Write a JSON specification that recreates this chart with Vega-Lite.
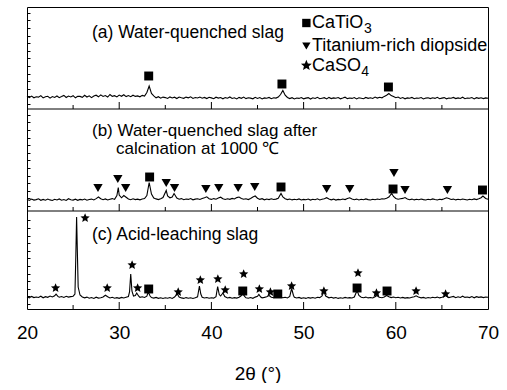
{
  "$schema": "https://vega.github.io/schema/vega-lite/v6.json",
  "width": 461,
  "height": 302,
  "padding": {"left": 16, "top": 7, "right": 0, "bottom": 0},
  "config": {
    "view": {"stroke": "black", "strokeWidth": 1},
    "font": "Liberation Sans",
    "axis": {"grid": false, "domain": false, "tickColor": "black", "labelColor": "black", "titleColor": "black", "labelFont": "Liberation Sans", "titleFont": "Liberation Sans"}
  },
  "resolve": {"scale": {"y": "independent"}},
  "datasets": {
    "sep": [{"y": 98}, {"y": 200}],
    "major": [
      {"x":30,"y":0},{"x":40,"y":0},{"x":50,"y":0},{"x":60,"y":0},
      {"x":30,"y":98},{"x":40,"y":98},{"x":50,"y":98},{"x":60,"y":98},
      {"x":30,"y":200},{"x":40,"y":200},{"x":50,"y":200},{"x":60,"y":200}
    ],
    "minor": [
      {"x":25,"y":0},{"x":35,"y":0},{"x":45,"y":0},{"x":55,"y":0},{"x":65,"y":0},
      {"x":25,"y":98},{"x":35,"y":98},{"x":45,"y":98},{"x":55,"y":98},{"x":65,"y":98},
      {"x":25,"y":200},{"x":35,"y":200},{"x":45,"y":200},{"x":55,"y":200},{"x":65,"y":200}
    ],
    "spa": [
      {"x":20.00,"y":12.8},{"x":20.25,"y":11.4},{"x":20.50,"y":12.9},{"x":20.75,"y":11.2},{"x":21.00,"y":12.3},{"x":21.25,"y":11.9},{"x":21.50,"y":13.4},{"x":21.75,"y":11.1},{"x":22.00,"y":12.2},{"x":22.25,"y":12.7},{"x":22.50,"y":10.9},{"x":22.75,"y":12.5},{"x":23.00,"y":11.6},{"x":23.25,"y":13.0},{"x":23.50,"y":11.3},{"x":23.75,"y":12.4},{"x":24.00,"y":13.6},{"x":24.25,"y":11.5},{"x":24.50,"y":12.9},{"x":24.75,"y":12.1},{"x":25.00,"y":13.3},{"x":25.25,"y":11.2},{"x":25.50,"y":12.8},{"x":25.75,"y":12.6},{"x":26.00,"y":11.7},{"x":26.25,"y":13.7},{"x":26.50,"y":12.0},{"x":26.75,"y":13.2},{"x":27.00,"y":11.4},{"x":27.25,"y":12.9},{"x":27.50,"y":13.8},{"x":27.75,"y":12.2},{"x":28.00,"y":14.1},{"x":28.25,"y":12.5},{"x":28.50,"y":13.4},{"x":28.75,"y":12.0},{"x":29.00,"y":14.5},{"x":29.25,"y":12.6},{"x":29.50,"y":13.3},{"x":29.75,"y":12.1},{"x":30.00,"y":13.9},{"x":30.25,"y":12.7},{"x":30.50,"y":14.2},{"x":30.75,"y":12.4},{"x":31.00,"y":13.5},{"x":31.25,"y":12.3},{"x":31.50,"y":13.8},{"x":31.75,"y":12.6},{"x":32.00,"y":13.1},{"x":32.25,"y":12.2},{"x":32.50,"y":13.6},{"x":32.75,"y":13.0},{"x":33.00,"y":16.5},{"x":33.25,"y":23.0},{"x":33.50,"y":15.5},{"x":33.75,"y":13.2},{"x":34.00,"y":11.2},{"x":34.25,"y":12.3},{"x":34.50,"y":10.8},{"x":34.75,"y":11.9},{"x":35.00,"y":11.4},{"x":35.25,"y":10.6},{"x":35.50,"y":12.1},{"x":35.75,"y":11.0},{"x":36.00,"y":11.8},{"x":36.25,"y":10.5},{"x":36.50,"y":12.0},{"x":36.75,"y":11.3},{"x":37.00,"y":10.7},{"x":37.25,"y":11.9},{"x":37.50,"y":11.2},{"x":37.75,"y":12.2},{"x":38.00,"y":10.6},{"x":38.25,"y":11.5},{"x":38.50,"y":11.0},{"x":38.75,"y":12.0},{"x":39.00,"y":10.8},{"x":39.25,"y":11.6},{"x":39.50,"y":10.4},{"x":39.75,"y":11.7},{"x":40.00,"y":11.1},{"x":40.25,"y":10.3},{"x":40.50,"y":11.8},{"x":40.75,"y":10.9},{"x":41.00,"y":11.5},{"x":41.25,"y":10.2},{"x":41.50,"y":11.4},{"x":41.75,"y":10.8},{"x":42.00,"y":12.0},{"x":42.25,"y":10.5},{"x":42.50,"y":11.2},{"x":42.75,"y":10.1},{"x":43.00,"y":11.6},{"x":43.25,"y":10.7},{"x":43.50,"y":11.9},{"x":43.75,"y":10.4},{"x":44.00,"y":11.3},{"x":44.25,"y":10.9},{"x":44.50,"y":10.2},{"x":44.75,"y":11.7},{"x":45.00,"y":10.6},{"x":45.25,"y":11.4},{"x":45.50,"y":10.0},{"x":45.75,"y":11.1},{"x":46.00,"y":10.8},{"x":46.25,"y":11.6},{"x":46.50,"y":10.3},{"x":46.75,"y":11.2},{"x":47.00,"y":10.9},{"x":47.25,"y":12.0},{"x":47.50,"y":14.5},{"x":47.75,"y":18.5},{"x":48.00,"y":13.8},{"x":48.25,"y":11.5},{"x":48.50,"y":10.4},{"x":48.75,"y":11.3},{"x":49.00,"y":10.1},{"x":49.25,"y":11.0},{"x":49.50,"y":10.6},{"x":49.75,"y":11.5},{"x":50.00,"y":10.2},{"x":50.25,"y":10.9},{"x":50.50,"y":11.4},{"x":50.75,"y":10.0},{"x":51.00,"y":11.2},{"x":51.25,"y":10.5},{"x":51.50,"y":11.7},{"x":51.75,"y":10.3},{"x":52.00,"y":10.8},{"x":52.25,"y":11.3},{"x":52.50,"y":10.1},{"x":52.75,"y":11.6},{"x":53.00,"y":10.4},{"x":53.25,"y":11.1},{"x":53.50,"y":10.7},{"x":53.75,"y":11.5},{"x":54.00,"y":10.2},{"x":54.25,"y":10.9},{"x":54.50,"y":11.8},{"x":54.75,"y":10.4},{"x":55.00,"y":11.0},{"x":55.25,"y":10.6},{"x":55.50,"y":11.4},{"x":55.75,"y":10.1},{"x":56.00,"y":11.2},{"x":56.25,"y":10.8},{"x":56.50,"y":10.3},{"x":56.75,"y":11.6},{"x":57.00,"y":10.7},{"x":57.25,"y":11.3},{"x":57.50,"y":10.5},{"x":57.75,"y":11.9},{"x":58.00,"y":10.9},{"x":58.25,"y":11.7},{"x":58.50,"y":11.2},{"x":58.75,"y":12.6},{"x":59.00,"y":13.8},{"x":59.25,"y":15.5},{"x":59.50,"y":13.4},{"x":59.75,"y":12.5},{"x":60.00,"y":11.3},{"x":60.25,"y":12.0},{"x":60.50,"y":10.6},{"x":60.75,"y":11.4},{"x":61.00,"y":10.2},{"x":61.25,"y":11.1},{"x":61.50,"y":10.7},{"x":61.75,"y":11.6},{"x":62.00,"y":10.3},{"x":62.25,"y":11.0},{"x":62.50,"y":10.8},{"x":62.75,"y":11.5},{"x":63.00,"y":10.1},{"x":63.25,"y":10.9},{"x":63.50,"y":11.3},{"x":63.75,"y":10.4},{"x":64.00,"y":11.2},{"x":64.25,"y":10.6},{"x":64.50,"y":11.7},{"x":64.75,"y":10.3},{"x":65.00,"y":10.9},{"x":65.25,"y":11.4},{"x":65.50,"y":10.2},{"x":65.75,"y":11.0},{"x":66.00,"y":10.7},{"x":66.25,"y":11.6},{"x":66.50,"y":10.4},{"x":66.75,"y":11.1},{"x":67.00,"y":10.5},{"x":67.25,"y":11.8},{"x":67.50,"y":10.3},{"x":67.75,"y":11.0},{"x":68.00,"y":10.8},{"x":68.25,"y":11.5},{"x":68.50,"y":10.1},{"x":68.75,"y":11.3},{"x":69.00,"y":10.6},{"x":69.25,"y":11.2},{"x":69.50,"y":10.4},{"x":69.75,"y":11.1},{"x":70.00,"y":10.7}
    ],
    "spb": [
      {"x":20.00,"y":11.8},{"x":20.25,"y":10.6},{"x":20.50,"y":11.9},{"x":20.75,"y":10.9},{"x":21.00,"y":11.4},{"x":21.25,"y":12.2},{"x":21.50,"y":10.7},{"x":21.75,"y":11.6},{"x":22.00,"y":10.8},{"x":22.25,"y":12.0},{"x":22.50,"y":11.1},{"x":22.75,"y":10.5},{"x":23.00,"y":11.7},{"x":23.25,"y":11.0},{"x":23.50,"y":12.1},{"x":23.75,"y":10.8},{"x":24.00,"y":11.5},{"x":24.25,"y":10.6},{"x":24.50,"y":12.3},{"x":24.75,"y":11.2},{"x":25.00,"y":10.9},{"x":25.25,"y":11.8},{"x":25.50,"y":10.7},{"x":25.75,"y":11.6},{"x":26.00,"y":11.1},{"x":26.25,"y":12.0},{"x":26.50,"y":10.8},{"x":26.75,"y":11.5},{"x":27.00,"y":11.9},{"x":27.25,"y":11.0},{"x":27.50,"y":12.4},{"x":27.75,"y":14.0},{"x":28.00,"y":12.2},{"x":28.25,"y":11.3},{"x":28.50,"y":12.1},{"x":28.75,"y":11.0},{"x":29.00,"y":11.8},{"x":29.25,"y":12.4},{"x":29.50,"y":11.6},{"x":29.75,"y":15.5},{"x":29.90,"y":23.5},{"x":30.00,"y":16.0},{"x":30.25,"y":13.2},{"x":30.50,"y":15.5},{"x":30.75,"y":13.8},{"x":31.00,"y":12.0},{"x":31.25,"y":11.3},{"x":31.50,"y":12.2},{"x":31.75,"y":11.4},{"x":32.00,"y":11.9},{"x":32.25,"y":11.2},{"x":32.50,"y":12.0},{"x":32.75,"y":12.5},{"x":33.00,"y":15.5},{"x":33.25,"y":28.5},{"x":33.50,"y":17.0},{"x":33.75,"y":13.0},{"x":34.00,"y":12.1},{"x":34.25,"y":11.4},{"x":34.50,"y":12.3},{"x":34.75,"y":13.5},{"x":35.10,"y":20.5},{"x":35.25,"y":15.0},{"x":35.50,"y":13.2},{"x":35.75,"y":14.0},{"x":35.95,"y":17.5},{"x":36.25,"y":13.0},{"x":36.50,"y":11.8},{"x":36.75,"y":12.4},{"x":37.00,"y":11.3},{"x":37.25,"y":12.0},{"x":37.50,"y":11.6},{"x":37.75,"y":12.5},{"x":38.00,"y":11.2},{"x":38.25,"y":11.9},{"x":38.50,"y":12.3},{"x":38.75,"y":11.5},{"x":39.00,"y":12.4},{"x":39.25,"y":13.2},{"x":39.50,"y":14.2},{"x":39.75,"y":12.3},{"x":40.00,"y":11.6},{"x":40.25,"y":12.4},{"x":40.50,"y":11.8},{"x":40.75,"y":12.9},{"x":41.00,"y":13.8},{"x":41.25,"y":12.2},{"x":41.50,"y":11.5},{"x":41.75,"y":12.3},{"x":42.00,"y":11.7},{"x":42.25,"y":12.6},{"x":42.50,"y":12.0},{"x":42.75,"y":13.4},{"x":43.00,"y":14.0},{"x":43.25,"y":12.5},{"x":43.50,"y":11.7},{"x":43.75,"y":12.2},{"x":44.00,"y":11.4},{"x":44.25,"y":12.6},{"x":44.50,"y":14.0},{"x":44.75,"y":15.0},{"x":45.00,"y":12.8},{"x":45.25,"y":11.6},{"x":45.50,"y":12.3},{"x":45.75,"y":11.2},{"x":46.00,"y":12.0},{"x":46.25,"y":11.4},{"x":46.50,"y":12.2},{"x":46.75,"y":11.5},{"x":47.00,"y":11.9},{"x":47.25,"y":12.8},{"x":47.55,"y":17.5},{"x":47.75,"y":14.0},{"x":48.00,"y":12.2},{"x":48.25,"y":11.4},{"x":48.50,"y":12.0},{"x":48.75,"y":11.1},{"x":49.00,"y":11.8},{"x":49.25,"y":11.3},{"x":49.50,"y":12.1},{"x":49.75,"y":11.0},{"x":50.00,"y":11.6},{"x":50.25,"y":11.2},{"x":50.50,"y":12.0},{"x":50.75,"y":10.9},{"x":51.00,"y":11.7},{"x":51.25,"y":11.3},{"x":51.50,"y":12.2},{"x":51.75,"y":11.0},{"x":52.00,"y":11.8},{"x":52.25,"y":12.3},{"x":52.50,"y":13.3},{"x":52.75,"y":12.0},{"x":53.00,"y":11.2},{"x":53.25,"y":11.9},{"x":53.50,"y":10.9},{"x":53.75,"y":11.6},{"x":54.00,"y":11.2},{"x":54.25,"y":12.0},{"x":54.50,"y":11.4},{"x":54.75,"y":12.4},{"x":55.00,"y":13.2},{"x":55.25,"y":12.1},{"x":55.50,"y":11.3},{"x":55.75,"y":11.9},{"x":56.00,"y":11.0},{"x":56.25,"y":11.7},{"x":56.50,"y":11.2},{"x":56.75,"y":12.1},{"x":57.00,"y":11.4},{"x":57.25,"y":11.0},{"x":57.50,"y":11.8},{"x":57.75,"y":11.3},{"x":58.00,"y":12.0},{"x":58.25,"y":11.5},{"x":58.50,"y":12.3},{"x":58.75,"y":12.0},{"x":59.00,"y":12.8},{"x":59.25,"y":14.0},{"x":59.55,"y":17.5},{"x":59.75,"y":14.5},{"x":60.00,"y":12.6},{"x":60.25,"y":11.8},{"x":60.50,"y":12.2},{"x":60.75,"y":12.6},{"x":61.00,"y":13.4},{"x":61.25,"y":12.0},{"x":61.50,"y":11.3},{"x":61.75,"y":11.9},{"x":62.00,"y":11.1},{"x":62.25,"y":11.7},{"x":62.50,"y":11.2},{"x":62.75,"y":12.0},{"x":63.00,"y":11.4},{"x":63.25,"y":11.0},{"x":63.50,"y":11.8},{"x":63.75,"y":11.3},{"x":64.00,"y":12.1},{"x":64.25,"y":11.5},{"x":64.50,"y":11.0},{"x":64.75,"y":11.8},{"x":65.00,"y":11.4},{"x":65.25,"y":12.2},{"x":65.50,"y":13.2},{"x":65.75,"y":12.4},{"x":66.00,"y":11.5},{"x":66.25,"y":11.9},{"x":66.50,"y":11.1},{"x":66.75,"y":11.8},{"x":67.00,"y":11.3},{"x":67.25,"y":12.0},{"x":67.50,"y":11.5},{"x":67.75,"y":11.0},{"x":68.00,"y":11.7},{"x":68.25,"y":11.2},{"x":68.50,"y":12.1},{"x":68.75,"y":11.4},{"x":69.00,"y":12.2},{"x":69.25,"y":13.3},{"x":69.45,"y":15.0},{"x":69.75,"y":12.6},{"x":70.00,"y":11.8}
    ],
    "spc": [
      {"x":20.00,"y":12.2},{"x":20.25,"y":11.1},{"x":20.50,"y":12.6},{"x":20.75,"y":11.4},{"x":21.00,"y":12.0},{"x":21.25,"y":11.5},{"x":21.50,"y":12.8},{"x":21.75,"y":11.2},{"x":22.00,"y":12.3},{"x":22.25,"y":11.7},{"x":22.50,"y":12.9},{"x":22.75,"y":12.0},{"x":23.00,"y":13.2},{"x":23.15,"y":14.8},{"x":23.35,"y":12.6},{"x":23.50,"y":11.8},{"x":23.75,"y":12.5},{"x":24.00,"y":11.6},{"x":24.25,"y":12.7},{"x":24.50,"y":11.9},{"x":24.75,"y":12.4},{"x":25.00,"y":12.8},{"x":25.20,"y":15.0},{"x":25.30,"y":55.0},{"x":25.38,"y":92.0},{"x":25.46,"y":58.0},{"x":25.55,"y":22.0},{"x":25.75,"y":14.0},{"x":26.00,"y":12.0},{"x":26.25,"y":11.2},{"x":26.50,"y":11.9},{"x":26.75,"y":10.8},{"x":27.00,"y":11.5},{"x":27.25,"y":10.6},{"x":27.50,"y":11.8},{"x":27.75,"y":10.9},{"x":28.00,"y":11.3},{"x":28.25,"y":12.0},{"x":28.50,"y":13.8},{"x":28.75,"y":12.2},{"x":29.00,"y":11.0},{"x":29.25,"y":11.7},{"x":29.50,"y":10.8},{"x":29.75,"y":11.4},{"x":30.00,"y":10.7},{"x":30.25,"y":11.6},{"x":30.50,"y":11.0},{"x":30.75,"y":11.8},{"x":31.00,"y":12.5},{"x":31.12,"y":17.0},{"x":31.25,"y":35.0},{"x":31.38,"y":18.0},{"x":31.55,"y":13.0},{"x":31.75,"y":13.5},{"x":31.90,"y":16.0},{"x":32.10,"y":13.0},{"x":32.25,"y":11.6},{"x":32.50,"y":12.2},{"x":32.75,"y":11.5},{"x":33.00,"y":12.8},{"x":33.15,"y":17.0},{"x":33.35,"y":13.0},{"x":33.50,"y":11.4},{"x":33.75,"y":10.9},{"x":34.00,"y":11.6},{"x":34.25,"y":10.7},{"x":34.50,"y":11.3},{"x":34.75,"y":10.5},{"x":35.00,"y":11.2},{"x":35.25,"y":10.8},{"x":35.50,"y":11.5},{"x":35.75,"y":10.6},{"x":36.00,"y":11.9},{"x":36.30,"y":15.0},{"x":36.50,"y":12.0},{"x":36.75,"y":11.1},{"x":37.00,"y":10.6},{"x":37.25,"y":11.4},{"x":37.50,"y":10.8},{"x":37.75,"y":11.3},{"x":38.00,"y":10.5},{"x":38.25,"y":11.2},{"x":38.50,"y":12.2},{"x":38.70,"y":23.0},{"x":38.85,"y":15.0},{"x":39.00,"y":11.8},{"x":39.25,"y":11.0},{"x":39.50,"y":11.5},{"x":39.75,"y":10.7},{"x":40.00,"y":11.3},{"x":40.25,"y":10.9},{"x":40.50,"y":12.4},{"x":40.68,"y":22.5},{"x":40.85,"y":14.5},{"x":41.00,"y":13.0},{"x":41.25,"y":16.0},{"x":41.45,"y":12.5},{"x":41.75,"y":11.0},{"x":42.00,"y":11.6},{"x":42.25,"y":10.8},{"x":42.50,"y":11.4},{"x":42.75,"y":10.9},{"x":43.00,"y":11.8},{"x":43.20,"y":13.0},{"x":43.40,"y":15.5},{"x":43.60,"y":12.6},{"x":43.75,"y":11.2},{"x":44.00,"y":10.8},{"x":44.25,"y":11.5},{"x":44.50,"y":10.7},{"x":44.75,"y":11.9},{"x":45.00,"y":12.6},{"x":45.15,"y":14.5},{"x":45.35,"y":12.0},{"x":45.50,"y":11.2},{"x":45.75,"y":11.6},{"x":46.00,"y":12.3},{"x":46.25,"y":13.5},{"x":46.50,"y":11.8},{"x":46.75,"y":11.3},{"x":47.00,"y":12.1},{"x":47.20,"y":13.5},{"x":47.45,"y":11.9},{"x":47.75,"y":11.2},{"x":48.00,"y":11.7},{"x":48.25,"y":11.0},{"x":48.50,"y":12.6},{"x":48.70,"y":20.5},{"x":48.90,"y":13.5},{"x":49.00,"y":11.8},{"x":49.25,"y":11.0},{"x":49.50,"y":11.6},{"x":49.75,"y":10.7},{"x":50.00,"y":11.3},{"x":50.25,"y":10.6},{"x":50.50,"y":11.4},{"x":50.75,"y":10.9},{"x":51.00,"y":11.5},{"x":51.25,"y":10.8},{"x":51.50,"y":11.7},{"x":51.75,"y":11.4},{"x":52.00,"y":13.0},{"x":52.20,"y":17.5},{"x":52.40,"y":13.0},{"x":52.75,"y":11.2},{"x":53.00,"y":11.7},{"x":53.25,"y":10.9},{"x":53.50,"y":11.5},{"x":53.75,"y":10.6},{"x":54.00,"y":11.3},{"x":54.25,"y":10.8},{"x":54.50,"y":11.6},{"x":54.75,"y":11.0},{"x":55.00,"y":11.4},{"x":55.25,"y":11.0},{"x":55.50,"y":12.0},{"x":55.80,"y":18.5},{"x":56.00,"y":13.5},{"x":56.25,"y":11.8},{"x":56.50,"y":11.2},{"x":56.75,"y":11.9},{"x":57.00,"y":11.1},{"x":57.25,"y":11.5},{"x":57.50,"y":11.0},{"x":57.75,"y":12.2},{"x":57.95,"y":13.5},{"x":58.20,"y":11.8},{"x":58.50,"y":11.3},{"x":58.75,"y":12.1},{"x":59.00,"y":13.5},{"x":59.25,"y":12.3},{"x":59.50,"y":11.4},{"x":59.75,"y":12.0},{"x":60.00,"y":11.2},{"x":60.25,"y":11.7},{"x":60.50,"y":11.0},{"x":60.75,"y":11.6},{"x":61.00,"y":10.9},{"x":61.25,"y":11.4},{"x":61.50,"y":11.0},{"x":61.75,"y":11.8},{"x":62.00,"y":12.2},{"x":62.20,"y":13.2},{"x":62.45,"y":11.9},{"x":62.75,"y":11.1},{"x":63.00,"y":11.6},{"x":63.25,"y":10.8},{"x":63.50,"y":11.5},{"x":63.75,"y":11.0},{"x":64.00,"y":11.7},{"x":64.25,"y":11.2},{"x":64.50,"y":11.9},{"x":64.75,"y":11.1},{"x":65.00,"y":11.8},{"x":65.25,"y":12.6},{"x":65.40,"y":13.8},{"x":65.60,"y":12.2},{"x":65.75,"y":11.4},{"x":66.00,"y":12.0},{"x":66.25,"y":12.6},{"x":66.50,"y":11.3},{"x":66.75,"y":12.2},{"x":67.00,"y":11.5},{"x":67.25,"y":12.8},{"x":67.50,"y":11.6},{"x":67.75,"y":12.0},{"x":68.00,"y":11.4},{"x":68.25,"y":12.4},{"x":68.50,"y":11.2},{"x":68.75,"y":12.3},{"x":69.00,"y":11.6},{"x":69.25,"y":12.1},{"x":69.50,"y":11.4},{"x":69.75,"y":12.0},{"x":70.00,"y":11.7}
    ],
    "mka": [
      {"x":33.2,"y":33,"p":"CaTiO3"},{"x":47.65,"y":25,"p":"CaTiO3"},{"x":59.2,"y":22,"p":"CaTiO3"}
    ],
    "lgd": [
      {"x":50.3,"y":86,"p":"CaTiO3"},{"x":50.3,"y":63,"p":"diopside"}
    ],
    "lgs": [
      {"x":50.3,"y":43.5,"p":"CaSO4"}
    ],
    "txa": [
      {"x":27.05,"y":76,"t":"(a) Water-quenched slag"}
    ],
    "txl": [
      {"x":50.9,"y":86,"t":"CaTiO"},
      {"x":50.9,"y":63,"t":"Titanium-rich diopside"},
      {"x":50.9,"y":43.5,"t":"CaSO"}
    ],
    "sub": [
      {"x":56.55,"y":80.5,"t":"3"},{"x":56.25,"y":37.5,"t":"4"}
    ],
    "mkb": [
      {"x":27.7,"y":23,"p":"diopside"},{"x":29.85,"y":32,"p":"diopside"},{"x":30.7,"y":23,"p":"diopside"},{"x":33.3,"y":34,"p":"CaTiO3"},{"x":35.1,"y":28,"p":"diopside"},{"x":36.0,"y":23,"p":"diopside"},{"x":39.4,"y":22,"p":"diopside"},{"x":40.8,"y":23,"p":"diopside"},{"x":42.9,"y":23,"p":"diopside"},{"x":44.7,"y":24,"p":"diopside"},{"x":47.55,"y":24,"p":"CaTiO3"},{"x":52.5,"y":22,"p":"diopside"},{"x":55.0,"y":22,"p":"diopside"},{"x":59.8,"y":38,"p":"diopside"},{"x":59.7,"y":22,"p":"CaTiO3"},{"x":61.0,"y":21,"p":"diopside"},{"x":65.6,"y":21,"p":"diopside"},{"x":69.4,"y":21,"p":"CaTiO3"}
    ],
    "txb": [
      {"x":27.05,"y":80.5,"t":"(b) Water-quenched slag after"},
      {"x":29.65,"y":62.5,"t":"calcination at 1000 ℃"}
    ],
    "mkc": [
      {"x":26.3,"y":91,"p":"CaSO4"},{"x":23.1,"y":21,"p":"CaSO4"},{"x":28.7,"y":21,"p":"CaSO4"},{"x":31.4,"y":44,"p":"CaSO4"},{"x":32.0,"y":21,"p":"CaSO4"},{"x":33.2,"y":20,"p":"CaTiO3"},{"x":36.4,"y":17,"p":"CaSO4"},{"x":38.8,"y":29,"p":"CaSO4"},{"x":40.7,"y":30,"p":"CaSO4"},{"x":41.5,"y":19,"p":"CaSO4"},{"x":43.5,"y":35,"p":"CaSO4"},{"x":43.4,"y":18,"p":"CaTiO3"},{"x":45.2,"y":20,"p":"CaSO4"},{"x":46.4,"y":17,"p":"CaSO4"},{"x":47.2,"y":15,"p":"CaTiO3"},{"x":48.7,"y":23,"p":"CaSO4"},{"x":52.2,"y":18,"p":"CaSO4"},{"x":55.9,"y":36,"p":"CaSO4"},{"x":55.8,"y":21,"p":"CaTiO3"},{"x":57.9,"y":16,"p":"CaSO4"},{"x":59.05,"y":18,"p":"CaTiO3"},{"x":62.2,"y":18,"p":"CaSO4"},{"x":65.4,"y":15,"p":"CaSO4"}
    ],
    "txc": [
      {"x":27.05,"y":74,"t":"(c) Acid-leaching slag"}
    ]
  },
  "layer": [
    {
      "data": {"name": "sep"},
      "mark": {"type": "rule", "color": "black", "strokeWidth": 1},
      "encoding": {
        "y": {"field": "y", "type": "quantitative", "scale": {"domain": [0, 302], "nice": false, "zero": false}, "axis": {"values": [5,12.6,20.2,27.8,35.4,43,50.6,58.2,65.8,73.4,81,88.6,103,110.6,118.2,125.8,133.4,141,148.6,156.2,163.8,171.4,179,186.6,194.2,205,212.6,220.2,227.8,235.4,243,250.6,258.2,265.8,273.4,281,288.6,296.2], "labels": false, "title": null, "tickSize": -3}}
      }
    },
    {
      "data": {"name": "major"},
      "mark": {"type": "tick", "orient": "vertical", "color": "black", "opacity": 1, "thickness": 1, "size": 7, "yOffset": -3.5},
      "encoding": {
        "x": {"field": "x", "type": "quantitative", "scale": {"domain": [20, 70], "nice": false, "zero": false}, "axis": {"orient": "bottom", "values": [20,30,40,50,60,70], "ticks": false, "labelFlush": false, "labelFontSize": 19, "labelPadding": 14, "title": "2θ (°)", "titleFontSize": 19, "titleFontWeight": "normal", "titlePadding": 22}},
        "y": {"field": "y", "type": "quantitative", "scale": {"domain": [0, 302], "nice": false, "zero": false}, "axis": null}
      }
    },
    {
      "data": {"name": "minor"},
      "mark": {"type": "tick", "orient": "vertical", "color": "black", "opacity": 1, "thickness": 1, "size": 4, "yOffset": -2},
      "encoding": {
        "x": {"field": "x", "type": "quantitative"},
        "y": {"field": "y", "type": "quantitative", "scale": {"domain": [0, 302], "nice": false, "zero": false}, "axis": null}
      }
    },
    {
      "data": {"name": "spa"},
      "mark": {"type": "line", "color": "black", "strokeWidth": 1.1},
      "encoding": {
        "x": {"field": "x", "type": "quantitative"},
        "y": {"field": "y", "type": "quantitative", "scale": {"domain": [-200, 102], "nice": false, "zero": false}, "axis": null}
      }
    },
    {
      "data": {"name": "spb"},
      "mark": {"type": "line", "color": "black", "strokeWidth": 1.1},
      "encoding": {
        "x": {"field": "x", "type": "quantitative"},
        "y": {"field": "y", "type": "quantitative", "scale": {"domain": [-98, 204], "nice": false, "zero": false}, "axis": null}
      }
    },
    {
      "data": {"name": "spc"},
      "mark": {"type": "line", "color": "black", "strokeWidth": 1.1},
      "encoding": {
        "x": {"field": "x", "type": "quantitative"},
        "y": {"field": "y", "type": "quantitative", "scale": {"domain": [0, 302], "nice": false, "zero": false}, "axis": null}
      }
    },
    {
      "data": {"name": "mka"},
      "mark": {"type": "point", "filled": true, "color": "black", "opacity": 1, "size": 80, "shape": "square"},
      "encoding": {
        "x": {"field": "x", "type": "quantitative"},
        "y": {"field": "y", "type": "quantitative", "scale": {"domain": [-200, 102], "nice": false, "zero": false}, "axis": null}
      }
    },
    {
      "data": {"name": "lgd"},
      "mark": {"type": "point", "filled": true, "color": "black", "opacity": 1, "size": 70},
      "encoding": {
        "x": {"field": "x", "type": "quantitative"},
        "y": {"field": "y", "type": "quantitative", "scale": {"domain": [-200, 102], "nice": false, "zero": false}, "axis": null},
        "shape": {"field": "p", "type": "nominal", "scale": {"domain": ["CaTiO3","diopside","CaSO4"], "range": ["square","triangle-down","M0,-1L0.265,-0.364L0.951,-0.309L0.428,0.139L0.588,0.809L0,0.45L-0.588,0.809L-0.428,0.139L-0.951,-0.309L-0.265,-0.364Z"]}, "legend": null}
      }
    },
    {
      "data": {"name": "lgs"},
      "mark": {"type": "point", "filled": true, "color": "black", "opacity": 1, "size": 130, "shape": "M0,-1L0.265,-0.364L0.951,-0.309L0.428,0.139L0.588,0.809L0,0.45L-0.588,0.809L-0.428,0.139L-0.951,-0.309L-0.265,-0.364Z"},
      "encoding": {
        "x": {"field": "x", "type": "quantitative"},
        "y": {"field": "y", "type": "quantitative", "scale": {"domain": [-200, 102], "nice": false, "zero": false}, "axis": null}
      }
    },
    {
      "data": {"name": "txa"},
      "mark": {"type": "text", "align": "left", "baseline": "middle", "fontSize": 17.5, "color": "black"},
      "encoding": {
        "x": {"field": "x", "type": "quantitative"},
        "y": {"field": "y", "type": "quantitative", "scale": {"domain": [-200, 102], "nice": false, "zero": false}, "axis": null},
        "text": {"field": "t", "type": "nominal"}
      }
    },
    {
      "data": {"name": "txl"},
      "mark": {"type": "text", "align": "left", "baseline": "middle", "fontSize": 18, "color": "black"},
      "encoding": {
        "x": {"field": "x", "type": "quantitative"},
        "y": {"field": "y", "type": "quantitative", "scale": {"domain": [-200, 102], "nice": false, "zero": false}, "axis": null},
        "text": {"field": "t", "type": "nominal"}
      }
    },
    {
      "data": {"name": "sub"},
      "mark": {"type": "text", "align": "left", "baseline": "middle", "fontSize": 14, "color": "black"},
      "encoding": {
        "x": {"field": "x", "type": "quantitative"},
        "y": {"field": "y", "type": "quantitative", "scale": {"domain": [-200, 102], "nice": false, "zero": false}, "axis": null},
        "text": {"field": "t", "type": "nominal"}
      }
    },
    {
      "data": {"name": "mkb"},
      "mark": {"type": "point", "filled": true, "color": "black", "opacity": 1},
      "encoding": {
        "x": {"field": "x", "type": "quantitative"},
        "y": {"field": "y", "type": "quantitative", "scale": {"domain": [-98, 204], "nice": false, "zero": false}, "axis": null},
        "shape": {"field": "p", "type": "nominal", "scale": {"domain": ["CaTiO3","diopside","CaSO4"], "range": ["square","triangle-down","M0,-1L0.265,-0.364L0.951,-0.309L0.428,0.139L0.588,0.809L0,0.45L-0.588,0.809L-0.428,0.139L-0.951,-0.309L-0.265,-0.364Z"]}, "legend": null},
        "size": {"field": "p", "type": "nominal", "scale": {"domain": ["CaTiO3","diopside","CaSO4"], "range": [80, 95, 190]}, "legend": null}
      }
    },
    {
      "data": {"name": "txb"},
      "mark": {"type": "text", "align": "left", "baseline": "middle", "fontSize": 17, "color": "black"},
      "encoding": {
        "x": {"field": "x", "type": "quantitative"},
        "y": {"field": "y", "type": "quantitative", "scale": {"domain": [-98, 204], "nice": false, "zero": false}, "axis": null},
        "text": {"field": "t", "type": "nominal"}
      }
    },
    {
      "data": {"name": "mkc"},
      "mark": {"type": "point", "filled": true, "color": "black", "opacity": 1},
      "encoding": {
        "x": {"field": "x", "type": "quantitative"},
        "y": {"field": "y", "type": "quantitative", "scale": {"domain": [0, 302], "nice": false, "zero": false}, "axis": null},
        "shape": {"field": "p", "type": "nominal", "scale": {"domain": ["CaTiO3","diopside","CaSO4"], "range": ["square","triangle-down","M0,-1L0.265,-0.364L0.951,-0.309L0.428,0.139L0.588,0.809L0,0.45L-0.588,0.809L-0.428,0.139L-0.951,-0.309L-0.265,-0.364Z"]}, "legend": null},
        "size": {"field": "p", "type": "nominal", "scale": {"domain": ["CaTiO3","diopside","CaSO4"], "range": [80, 95, 190]}, "legend": null}
      }
    },
    {
      "data": {"name": "txc"},
      "mark": {"type": "text", "align": "left", "baseline": "middle", "fontSize": 17.5, "color": "black"},
      "encoding": {
        "x": {"field": "x", "type": "quantitative"},
        "y": {"field": "y", "type": "quantitative", "scale": {"domain": [0, 302], "nice": false, "zero": false}, "axis": null},
        "text": {"field": "t", "type": "nominal"}
      }
    }
  ]
}
